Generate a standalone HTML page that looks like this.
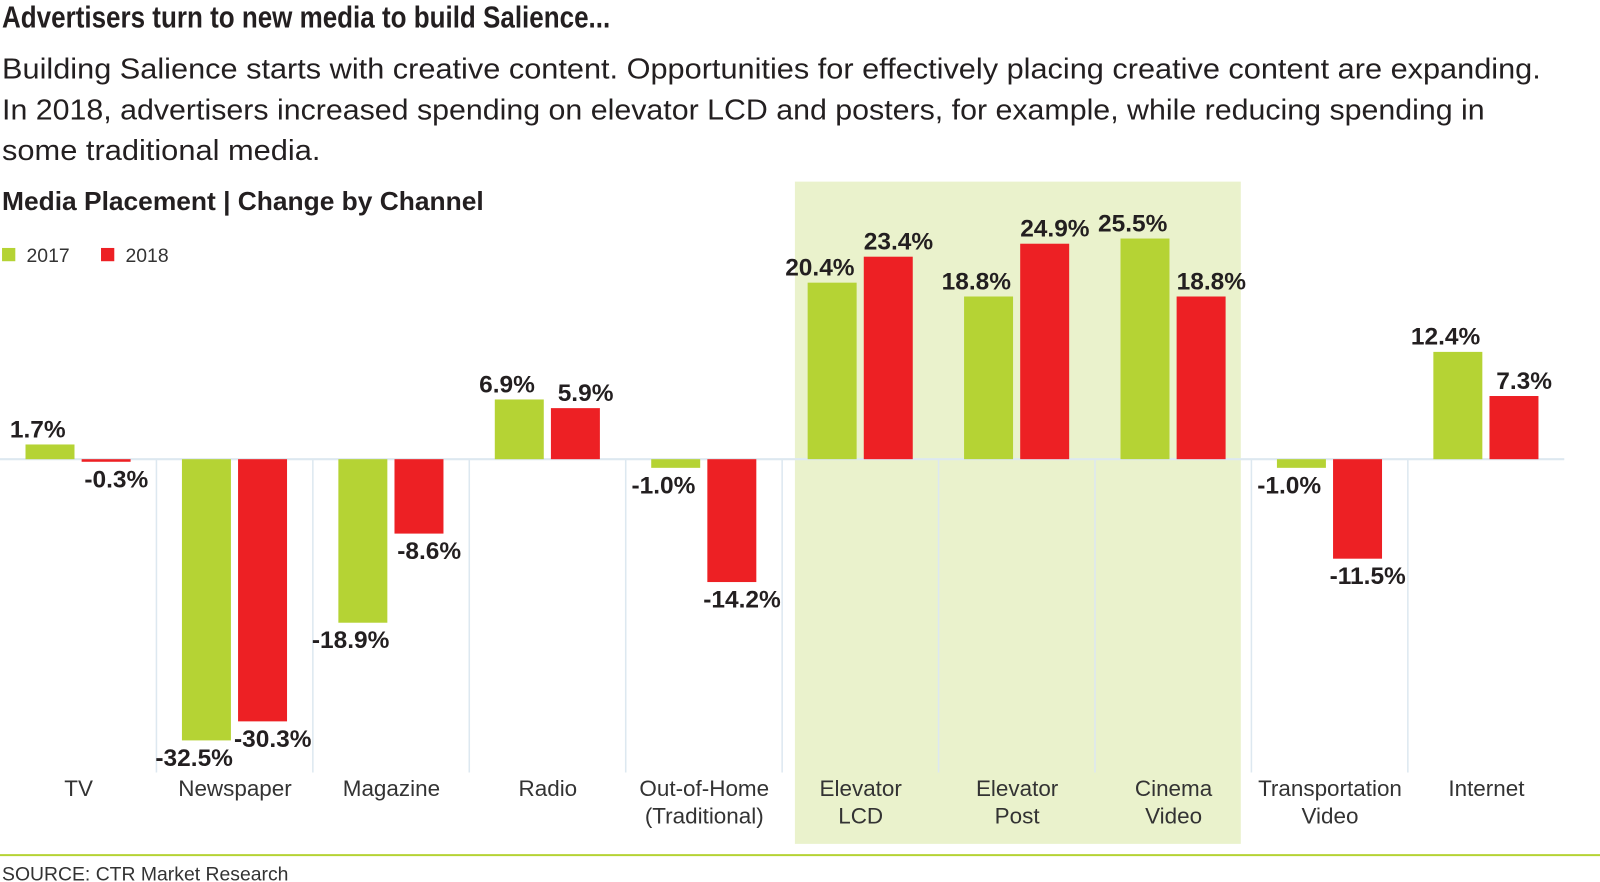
<!DOCTYPE html>
<html><head><meta charset="utf-8"><style>
html,body{margin:0;padding:0;background:#fff;}
svg{display:block;font-family:"Liberation Sans",sans-serif;}
</style></head><body>
<svg id="chart" width="1600" height="882" viewBox="0 0 1600 882">
<g transform="scale(1.0204)">
<text x="2" y="27" font-size="30" font-weight="bold" fill="#231f20" textLength="596" lengthAdjust="spacingAndGlyphs">Advertisers turn to new media to build Salience...</text>
<g font-size="28" fill="#231f20">
<text x="2" y="77" textLength="1508" lengthAdjust="spacingAndGlyphs">Building Salience starts with creative content. Opportunities for effectively placing creative content are expanding.</text>
<text x="2" y="117" textLength="1453" lengthAdjust="spacingAndGlyphs">In 2018, advertisers increased spending on elevator LCD and posters, for example, while reducing spending in</text>
<text x="2" y="157" textLength="312" lengthAdjust="spacingAndGlyphs">some traditional media.</text>
</g>
<text x="2" y="206" font-size="25" font-weight="bold" fill="#231f20" textLength="472" lengthAdjust="spacingAndGlyphs">Media Placement | Change by Channel</text>
<rect x="779" y="178" width="437" height="649" fill="#eaf2cc"/>
<g>
<rect x="2" y="243" width="13" height="13" fill="#b5d334"/>
<text x="26" y="257" font-size="19" fill="#333">2017</text>
<rect x="99" y="243" width="13" height="13" fill="#ed2024"/>
<text x="123" y="257" font-size="19" fill="#333">2018</text>
</g>
<g id="plot"></g>
<line x1="0" y1="838" x2="1600" y2="838" stroke="#b5d334" stroke-width="2"/>
<text x="2" y="863" font-size="19" fill="#333">SOURCE: CTR Market Research</text>
</g>
</svg>
<script>
const categories = [["TV"],["Newspaper"],["Magazine"],["Radio"],["Out-of-Home","(Traditional)"],["Elevator","LCD"],["Elevator","Post"],["Cinema","Video"],["Transportation","Video"],["Internet"]];
const values2017 = [1.7,-32.5,-18.9,6.9,-1.0,20.4,18.8,25.5,-1.0,12.4];
const values2018 = [-0.3,-30.3,-8.6,5.9,-14.2,23.4,24.9,18.8,-11.5,7.3];

const NS = "http://www.w3.org/2000/svg";
const plot = document.getElementById("plot");
const zeroY = 450, pxPer = 8.48, groupW = 153.3, x0 = 0;
function yScale(v){ return zeroY - v * pxPer; }
function groupX(i){ return x0 + i * groupW; }
function mk(tag, attrs){ const e = document.createElementNS(NS, tag); for (const k in attrs) e.setAttribute(k, attrs[k]); plot.appendChild(e); return e; }

for (let i = 1; i < categories.length; i++) {
  const l = mk("line", {x1: groupX(i), x2: groupX(i), y1: zeroY, y2: 757, stroke: "#dde8f0", "stroke-width": 1.5});
  
  
}
const ax = mk("line", {x1: 0, x2: 1533, y1: zeroY, y2: zeroY, stroke: "#dde8f0", "stroke-width": 2});



function bar(i, v, offset, color, series, lblShift){
  const x = groupX(i) + offset, w = 48;
  const y1 = yScale(Math.max(v, 0)), y2 = yScale(Math.min(v, 0));
  const r = mk("rect", {x: x, y: y1, width: w, height: Math.max(y2 - y1, 1), fill: color});
  
  
  const ty = v >= 0 ? y1 - 7 : y2 + 25;
  const t = mk("text", {x: x + w / 2 + lblShift, y: ty, "font-size": 24, "font-weight": "bold", fill: "#231f20", "text-anchor": "middle"});
  t.textContent = v.toFixed(1) + "%";
  
  
}
categories.forEach((c, i) => {
  bar(i, values2017[i], 25, "#b5d334", "2017", -12);
  bar(i, values2018[i], 80, "#ed2024", "2018", 10);
  c.forEach((line, j) => {
    const t = mk("text", {x: groupX(i) + 77, y: 780 + j * 27, "font-size": 22, fill: "#333", "text-anchor": "middle"});
    t.textContent = line;
    
    
  });
});
</script>
</body></html>
